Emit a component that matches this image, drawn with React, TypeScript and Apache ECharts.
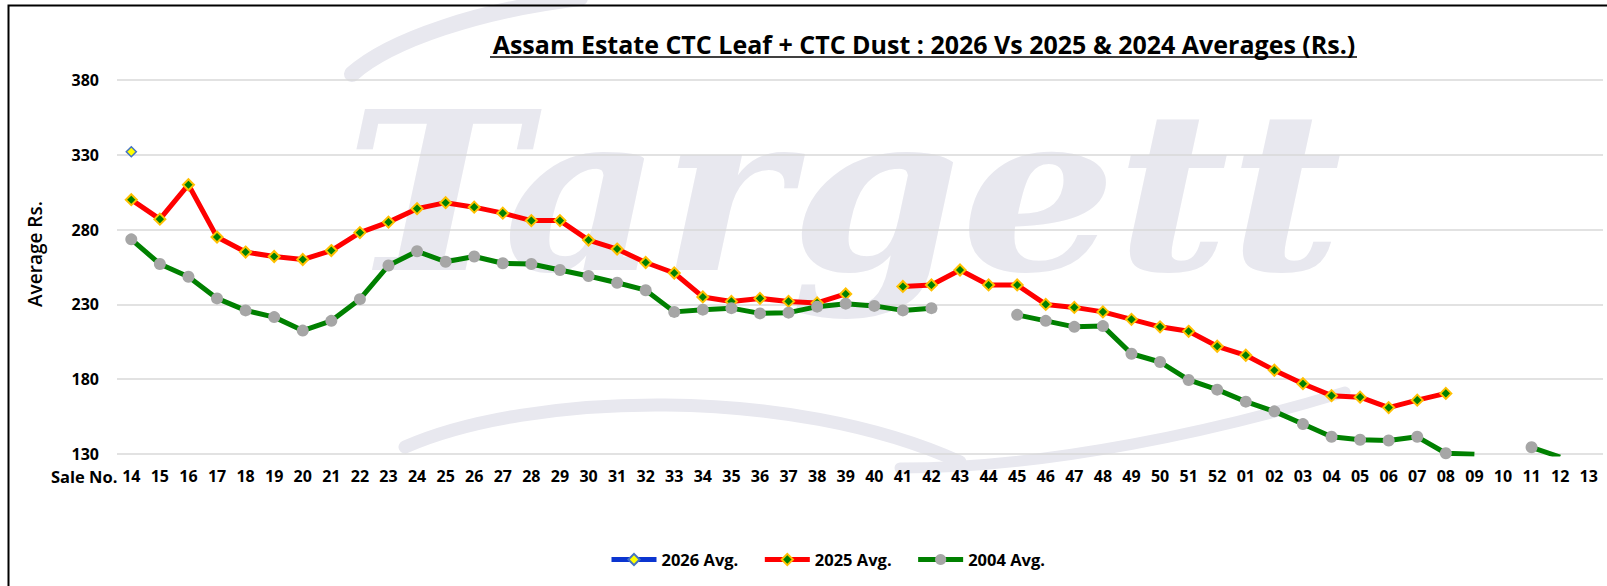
import React, { useEffect, useRef } from "react";
import * as echarts from "echarts";

const saleNos = [
  "14", "15", "16", "17", "18", "19", "20", "21", "22", "23", "24", "25", "26",
  "27", "28", "29", "30", "31", "32", "33", "34", "35", "36", "37", "38", "39",
  "40", "41", "42", "43", "44", "45", "46", "47", "48", "49", "50", "51", "52",
  "01", "02", "03", "04", "05", "06", "07", "08", "09", "10", "11", "12", "13",
];

const avg2026 = [332];

const avg2025 = [
  300, 287, 310, 275, 265, 262, 260, 266, 278, 285, 294, 298, 295,
  291, 286, 286, 273, 267, 258, 251, 235, 232, 234, 232, 231, 237,
  null, 242, 243, 253, 243, 243, 230, 228, 225, 220, 215, 212, 202,
  196, 186, 177, 169, 168, 161, 166, 170.5,
];

const avg2024 = [
  273.5, 257, 248.5, 234, 226, 221.5, 212.5, 219, 233.5, 256, 265.5, 258.5, 262,
  257.5, 257, 253, 249, 244.5, 239.5, 225, 226.5, 227.5, 224, 224.5, 228.5, 230.5,
  229, 226, 227.5, null, null, 223, 219, 215, 215.5, 197, 191.5, 179.5, 173,
  165, 158.5, 150, 141.5, 139.5, 139, 141.5, 130.5, 129.8, null, 134.5, 128,
];

const yTicks = { min: 130, max: 380, interval: 50 };

const seriesNames = ["2026 Avg.", "2025 Avg.", "2004 Avg."];

const TITLE = "Assam Estate CTC Leaf + CTC Dust : 2026 Vs 2025 & 2024 Averages (Rs.)";

const FONT = "'Open Sans', 'Noto Sans', sans-serif";
const WM = "#E8E8EF";

export default function App() {
  const ref = useRef<HTMLDivElement>(null);

  useEffect(() => {
    const chart = echarts.init(ref.current as HTMLDivElement, null, { renderer: "svg" });
    chart.setOption({
      animation: false,
      backgroundColor: "#ffffff",
      textStyle: { fontFamily: FONT },
      grid: { left: 117, right: 4, top: 80, bottom: 132, containLabel: false },
      legend: {
        data: seriesNames,
        left: 609,
        top: 551,
        padding: 0,
        itemWidth: 45,
        itemHeight: 14,
        itemGap: 24,
        selectedMode: false,
        lineStyle: { width: 5 },
        textStyle: { fontFamily: FONT, fontSize: 16.5, fontWeight: "bold", color: "#000" },
      },
      xAxis: {
        type: "category",
        data: saleNos,
        boundaryGap: true,
        axisLine: { show: false },
        axisTick: { show: false },
        splitLine: { show: false },
        axisLabel: {
          interval: 0,
          margin: 14,
          fontSize: 16,
          fontWeight: "bold",
          color: "#000",
          fontFamily: FONT,
        },
      },
      yAxis: {
        type: "value",
        min: yTicks.min,
        max: yTicks.max,
        interval: yTicks.interval,
        axisLine: { show: false },
        axisTick: { show: false },
        splitLine: { lineStyle: { color: "#D9D9D9", width: 1.5 } },
        axisLabel: {
          margin: 18,
          fontSize: 16,
          lineHeight: 16,
          fontWeight: "bold",
          color: "#000",
          fontFamily: FONT,
        },
      },
      graphic: [
        {
          type: "text",
          z: -10,
          silent: true,
          x: 345,
          y: 192,
          scaleX: 1.1,
          style: {
            text: "Targett",
            fill: WM,
            fontSize: 222,
            fontWeight: "bold",
            fontStyle: "italic",
            fontFamily: "'DejaVu Serif', serif",
            textAlign: "left",
            textVerticalAlign: "middle",
            align: "left",
            verticalAlign: "middle",
          },
        },
        {
          type: "bezierCurve",
          z: -10,
          silent: true,
          shape: { x1: 405, y1: 447, cpx1: 530, cpy1: 392, cpx2: 790, cpy2: 385, x2: 960, y2: 462 },
          style: { stroke: WM, lineWidth: 13, fill: null, lineCap: "round" },
        },
        {
          type: "bezierCurve",
          z: -10,
          silent: true,
          shape: { x1: 900, y1: 468, cpx1: 1050, cpy1: 468, cpx2: 1220, cpy2: 430, x2: 1345, y2: 392 },
          style: { stroke: WM, lineWidth: 11, fill: null, lineCap: "round" },
        },
        {
          type: "bezierCurve",
          z: -10,
          silent: true,
          shape: { x1: 352, y1: 74, cpx1: 390, cpy1: 40, cpx2: 480, cpy2: 10, x2: 580, y2: -2 },
          style: { stroke: WM, lineWidth: 16, fill: null, lineCap: "round" },
        },
        {
          type: "rect",
          silent: true,
          shape: { x: 8.5, y: 5.5, width: 1700, height: 700 },
          style: { fill: null, stroke: "#000", lineWidth: 2 },
        },
        {
          type: "text",
          silent: true,
          x: 924,
          y: 44,
          style: {
            text: TITLE,
            fill: "#000",
            fontSize: 25,
            fontWeight: "bold",
            fontFamily: FONT,
            textAlign: "center",
            textVerticalAlign: "middle",
            align: "center",
            verticalAlign: "middle",
          },
        },
        {
          type: "line",
          silent: true,
          shape: { x1: 490, y1: 57, x2: 1357, y2: 57 },
          style: { stroke: "#000", lineWidth: 1.5 },
        },
        {
          type: "text",
          silent: true,
          x: 35,
          y: 254,
          rotation: Math.PI / 2,
          style: {
            text: "Average Rs.",
            fill: "#000",
            fontSize: 19,
            fontWeight: 600,
            fontFamily: FONT,
            textAlign: "center",
            textVerticalAlign: "middle",
            align: "center",
            verticalAlign: "middle",
          },
        },
        {
          type: "text",
          silent: true,
          x: 51,
          y: 476,
          style: {
            text: "Sale No.",
            fill: "#000",
            fontSize: 16.5,
            lineHeight: 17,
            fontWeight: "bold",
            fontFamily: FONT,
            textAlign: "left",
            textVerticalAlign: "middle",
            align: "left",
            verticalAlign: "middle",
          },
        },
      ],
      series: [
        {
          name: seriesNames[0],
          type: "line",
          data: avg2026,
          symbol: "diamond",
          symbolSize: 10,
          showAllSymbol: true,
          itemStyle: { color: "#FFFF00", borderColor: "#4472C4", borderWidth: 1.5 },
          lineStyle: { color: "#0B35D0", width: 5 },
          emphasis: { disabled: true },
        },
        {
          name: seriesNames[1],
          type: "line",
          data: avg2025,
          symbol: "diamond",
          symbolSize: 11,
          showAllSymbol: true,
          connectNulls: false,
          itemStyle: { color: "#008000", borderColor: "#FFC000", borderWidth: 2 },
          lineStyle: { color: "#FF0000", width: 5 },
          emphasis: { disabled: true },
        },
        {
          name: seriesNames[2],
          type: "line",
          data: avg2024,
          symbol: "circle",
          symbolSize: 12,
          showAllSymbol: true,
          connectNulls: false,
          itemStyle: { color: "#A6A6A6", borderWidth: 0 },
          lineStyle: { color: "#008000", width: 5 },
          emphasis: { disabled: true },
        },
      ],
    });
    return () => chart.dispose();
  }, []);

  return (
    <div
      ref={ref}
      style={{ position: "absolute", left: 0, top: 0, width: 1607, height: 586, background: "#fff" }}
    />
  );
}
